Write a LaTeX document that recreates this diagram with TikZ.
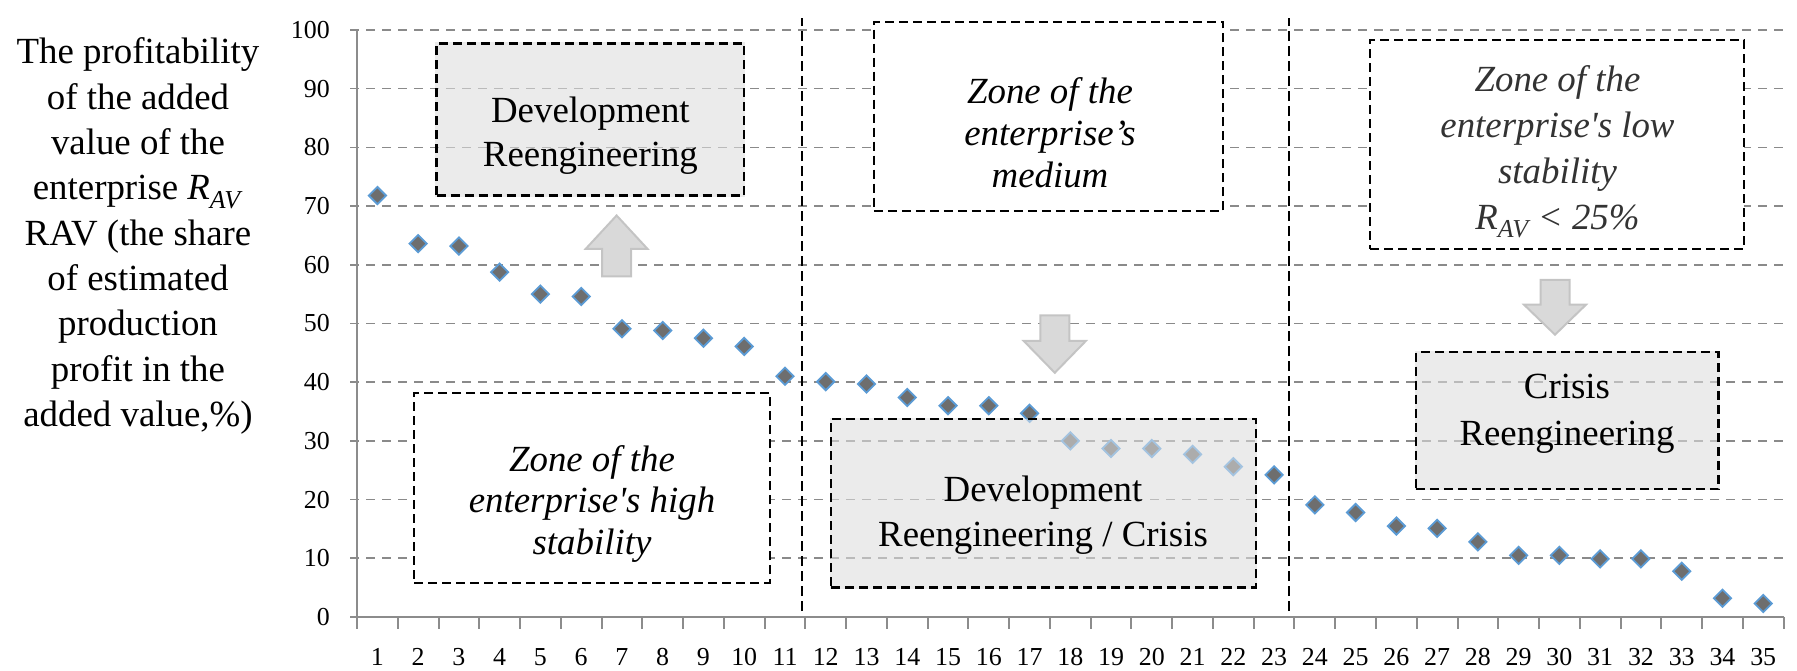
\documentclass[tikz,border=0pt]{standalone}
\usepackage{fontspec}
\setmainfont{Liberation Serif}[Ligatures=TeXOff]
\usetikzlibrary{shapes.geometric}
\definecolor{gridc}{RGB}{138,138,138}
\definecolor{axisc}{RGB}{140,140,140}
\definecolor{ptfill}{RGB}{110,110,110}
\definecolor{ptblue}{RGB}{91,155,213}
\definecolor{boxg}{RGB}{235,235,235}
\definecolor{arrfill}{RGB}{217,217,217}
\definecolor{arrdraw}{RGB}{196,196,196}
\pgfdeclarelayer{boxbg}\pgfdeclarelayer{plot}\pgfsetlayers{boxbg,plot,main}
\begin{document}
\begin{tikzpicture}[x=1bp,y=1bp,
  gridline/.style={draw=gridc, line width=1.6bp, dash pattern=on 9bp off 7bp},
  axisline/.style={draw=axisc, line width=2bp},
  zoneline/.style={draw=black, line width=2bp, dash pattern=on 10bp off 5bp},
  zonebox/.style={draw=black, line width=2.2bp, dash pattern=on 9bp off 5bp, fill=white, inner sep=0pt},
  graybox/.style={draw=black, line width=2.2bp, dash pattern=on 9bp off 5bp, fill=boxg, fill opacity=0.5, draw opacity=1, inner sep=0pt},
  boxtext/.style={font=\fontsize{37}{45}\selectfont, align=center, inner sep=0pt},
  boxtextit/.style={font=\fontsize{37}{42}\selectfont\itshape, align=center, inner sep=0pt},
  ticklab/.style={font=\fontsize{26}{30}\selectfont, inner sep=0pt},
  pt/.style={diamond, aspect=1, minimum width=18bp, minimum height=18bp, inner sep=0pt, fill=ptfill, draw=ptblue, line width=1.8bp},
  bigarrow/.style={fill=arrfill, draw=arrdraw, line width=2bp, line join=miter}
]
\useasboundingbox (0,0) rectangle (1797,671);

\begin{pgfonlayer}{plot}
  \foreach \v in {10,20,...,100}
    \draw[gridline] (350,{54+5.87*\v}) -- (1783.6,{54+5.87*\v});
  \draw[axisline] (357,54) -- (357,641);
  \draw[axisline] (350,54) -- (1783.6,54);
  \foreach \i in {0,...,35}
    \draw[axisline] ({357+40.76*\i},54) -- ({357+40.76*\i},42);
  \foreach \v [count=\i] in {71.8,63.6,63.2,58.75,55.0,54.6,49.1,48.8,47.5,46.1,41,40.1,39.7,37.4,36,36,34.7,30,28.7,28.7,27.7,25.6,24.2,19.1,17.8,15.5,15.1,12.8,10.5,10.5,9.9,9.9,7.8,3.2,2.3}
    \node[pt] (p\i) at ({357+40.76*(\i-0.5)},{54+5.87*\v}) {};
  \coordinate (z1b) at (802.1,59.9);
  \coordinate (z1t) at (802.1,652.7);
  \coordinate (z2b) at (1289.2,59.9);
  \coordinate (z2t) at (1289.2,652.7);
  \draw[zoneline] (z1b) -- (z1t);
  \draw[zoneline] (z2b) -- (z2t);
\end{pgfonlayer}

\foreach \v in {0,10,...,100}
  \node[ticklab, anchor=east] (yl\v) at (330,{54+5.87*\v}) {\v};
\foreach \i in {1,...,35}
  \node[ticklab] (xl\i) at ({357+40.76*(\i-0.5)},14) {\i};

\node[graybox, minimum width=307.7bp, minimum height=152bp] (devre) at (590.4,551.5) {};
\node[zonebox, minimum width=355.8bp, minimum height=189.3bp] (high) at (592,183) {};
\node[zonebox, minimum width=349.4bp, minimum height=189.3bp] (medium) at (1048.5,554.6) {};
\node[graybox, minimum width=424.8bp, minimum height=168.4bp] (devcrisis) at (1043.4,167.6) {};
\node[zonebox, minimum width=373.8bp, minimum height=209bp] (low) at (1557.2,526.5) {};
\node[graybox, minimum width=302.5bp, minimum height=136.7bp] (crisis) at (1567.2,250.3) {};

\begin{pgfonlayer}{boxbg}
  \foreach \b in {devre,devcrisis,crisis}
    \fill[boxg] (\b.south west) rectangle (\b.north east);
\end{pgfonlayer}

\node[boxtext, font=\fontsize{37}{44}\selectfont] (tdevre) at (590.4,535) {Development\\Reengineering};
\node[boxtextit] (thigh) at (592,167) {Zone of the\\enterprise's high\\stability};
\node[boxtextit] (tmedium) at (1050,538) {Zone of the\\enterprise’s\\medium};
\node[boxtext] (tdevcrisis) at (1043,155.6) {Development\\Reengineering / Crisis};
\node[boxtextit, font=\fontsize{37}{46}\selectfont\itshape, text=black!80] (tlow) at (1557.5,519) {Zone of the\\enterprise's low\\stability\\R\textsubscript{AV} < 25\%};
\node[boxtext, font=\fontsize{37}{47}\selectfont] (tcrisis) at (1567,257) {Crisis\\Reengineering};

\draw[bigarrow] (602.1,394.5) -- (602.1,422) -- (585.6,422) -- (616.6,455.5) -- (647.6,422) -- (631.1,422) -- (631.1,394.5) -- cycle;
\draw[bigarrow] (1040.3,355.7) -- (1040.3,330) -- (1023.8,330) -- (1054.8,298.2) -- (1085.8,330) -- (1069.3,330) -- (1069.3,355.7) -- cycle;
\draw[bigarrow] (1540.5,391) -- (1540.5,366.3) -- (1524,366.3) -- (1555,336.3) -- (1586,366.3) -- (1569.5,366.3) -- (1569.5,391) -- cycle;

\node[font=\fontsize{37}{45.5}\selectfont, align=center, inner sep=0pt] (ylabel) at (138,435) {The profitability\\of the added\\value of the\\enterprise \textit{R}\textsubscript{\textit{AV}}\\RAV (the share\\of estimated\\production\\profit in the\\added value,\%)};
\end{tikzpicture}
\end{document}
